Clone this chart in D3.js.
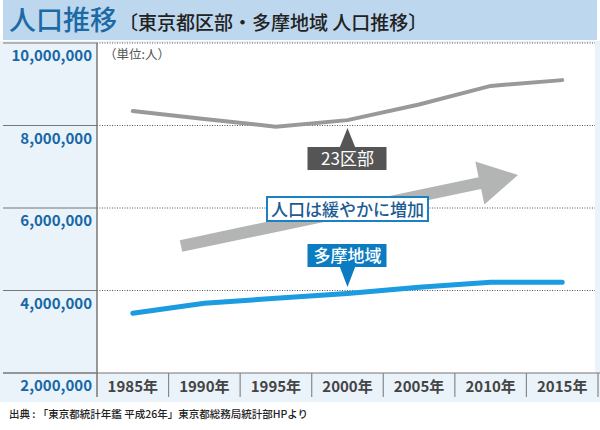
<!DOCTYPE html>
<html>
<head>
<meta charset="utf-8">
<script src="https://cdn.jsdelivr.net/npm/d3@7"></script>
<style>
  body { margin: 0; background: #fff; }
  svg { display: block; font-family: "Noto Sans CJK JP", "Noto Sans", sans-serif; }
</style>
</head>
<body>
<div id="chart"></div>
<script>
// données
const years = ["1985年", "1990年", "1995年", "2000年", "2005年", "2010年", "2015年"];
const ku23 = [8350000, 8160000, 7970000, 8130000, 8510000, 8960000, 9100000];
const tama = [3450000, 3690000, 3810000, 3930000, 4080000, 4200000, 4200000];
const yTicks = [2000000, 4000000, 6000000, 8000000, 10000000];

const W = 600, H = 430;
const plotL = 97, plotR = 598, plotT = 43, plotB = 373;

const svg = d3.select("#chart").append("svg")
    .attr("width", W).attr("height", H);

// fonds
svg.append("rect").attr("x", 3).attr("y", 0).attr("width", 594).attr("height", 40)
    .attr("fill", "#bdd7ee");
svg.append("rect").attr("x", 0).attr("y", 41).attr("width", W).attr("height", 361)
    .attr("fill", "#eaf2fa");
svg.append("rect").attr("x", plotL).attr("y", plotT).attr("width", 498).attr("height", plotB - plotT)
    .attr("fill", "#fff");

// titre
const title = svg.append("text").attr("x", 9).attr("y", 30);
title.append("tspan").text("人口推移")
    .attr("font-size", 27).attr("fill", "#1c6aa5").attr("font-weight", 500);
title.append("tspan").text("〔東京都区部・多摩地域 人口推移〕")
    .attr("dx", 2).attr("font-size", 19).attr("fill", "#222").attr("font-weight", 500);

// échelles
const x = d3.scaleBand().domain(years).range([plotL, plotR]);
const y = d3.scaleLinear().domain([2000000, 10000000]).range([plotB, plotT]);

// grille horizontale
yTicks.forEach(t => {
    svg.append("line")
        .attr("x1", 3).attr("x2", plotL).attr("y1", y(t)).attr("y2", y(t))
        .attr("stroke", "#777").attr("stroke-width", 1.2);
    if (t > 2000000) {
        svg.append("line")
            .attr("x1", plotL).attr("x2", 595).attr("y1", y(t)).attr("y2", y(t))
            .attr("stroke", "#555").attr("stroke-width", 1)
            .attr("stroke-dasharray", "1,1.5");
    }
    svg.append("text")
        .attr("x", 92).attr("y", y(t) + 18)
        .attr("text-anchor", "end")
        .attr("font-size", 15).attr("font-weight", 700)
        .attr("fill", "#1767a6")
        .text(d3.format(",")(t));
});
svg.append("line").attr("x1", 3).attr("x2", 600).attr("y1", plotB).attr("y2", plotB)
    .attr("stroke", "#777").attr("stroke-width", 1.2);

// axe vertical
svg.append("line").attr("x1", plotL).attr("x2", plotL).attr("y1", plotT).attr("y2", 397)
    .attr("stroke", "#777").attr("stroke-width", 1.5);

// axe X (cellules)
years.forEach(yr => {
    svg.append("line")
        .attr("x1", x(yr) + x.bandwidth()).attr("x2", x(yr) + x.bandwidth())
        .attr("y1", plotB).attr("y2", 397)
        .attr("stroke", "#888").attr("stroke-width", 1.2);
    svg.append("text")
        .attr("x", x(yr) + x.bandwidth() / 2).attr("y", 392)
        .attr("text-anchor", "middle")
        .attr("font-size", 15).attr("font-weight", 700)
        .attr("fill", "#444")
        .text(yr);
});

// unité
svg.append("text").attr("x", 104).attr("y", 59)
    .attr("font-size", 12.5).attr("fill", "#555")
    .text("（単位:人）");

const cx = (d, i) => x(years[i]) + x.bandwidth() / 2;
const line = d3.line().x(cx).y(d => y(d));

// flèche grise
const ax0 = 181, ay0 = 246, ax1 = 518, ay1 = 175;
const ang = Math.atan2(ay1 - ay0, ax1 - ax0);
const len = Math.hypot(ax1 - ax0, ay1 - ay0);
const sw = 6, hw = 22, hl = 39;
svg.append("path")
    .attr("transform", `translate(${ax0},${ay0}) rotate(${ang * 180 / Math.PI})`)
    .attr("d", `M0,${-sw}L${len - hl},${-sw}L${len - hl},${-hw}L${len},0L${len - hl},${hw}L${len - hl},${sw}L0,${sw}Z`)
    .attr("fill", "#b3b5b4");

// courbes
svg.append("path").datum(ku23)
    .attr("d", line).attr("fill", "none")
    .attr("stroke", "#999").attr("stroke-width", 4)
    .attr("stroke-linecap", "round");
svg.append("path").datum(tama)
    .attr("d", line).attr("fill", "none")
    .attr("stroke", "#1b9be0").attr("stroke-width", 5)
    .attr("stroke-linecap", "round");

// étiquettes
const px2000 = cx(null, 3);
// 23区部
svg.append("path")
    .attr("d", `M${px2000},128L${px2000 - 8},148L${px2000 + 8},148Z`)
    .attr("fill", "#555");
svg.append("rect").attr("x", px2000 - 40).attr("y", 147).attr("width", 79).attr("height", 23)
    .attr("fill", "#555");
svg.append("text").attr("x", px2000).attr("y", 165).attr("text-anchor", "middle")
    .attr("font-size", 17).attr("fill", "#fff").text("23区部");

// 多摩地域
svg.append("path")
    .attr("d", `M${px2000},287L${px2000 - 8},266L${px2000 + 8},266Z`)
    .attr("fill", "#0b7cc1");
svg.append("rect").attr("x", px2000 - 40).attr("y", 244).attr("width", 79).attr("height", 23)
    .attr("fill", "#0b7cc1");
svg.append("text").attr("x", px2000).attr("y", 262).attr("text-anchor", "middle")
    .attr("font-size", 17).attr("font-weight", 500).attr("fill", "#fff").text("多摩地域");

// 人口は緩やかに増加
svg.append("rect").attr("x", 267).attr("y", 197).attr("width", 161).attr("height", 24)
    .attr("fill", "#fff").attr("stroke", "#1b80c4").attr("stroke-width", 2);
svg.append("text").attr("x", 347.5).attr("y", 215.5).attr("text-anchor", "middle")
    .attr("font-size", 17).attr("font-weight", 500).attr("fill", "#1a5c92")
    .text("人口は緩やかに増加");

// source
svg.append("text").attr("x", 9).attr("y", 418)
    .attr("font-size", 10.5).attr("font-weight", 500).attr("fill", "#222")
    .text("出典 : 「東京都統計年鑑 平成26年」東京都総務局統計部HPより");
</script>
</body>
</html>
